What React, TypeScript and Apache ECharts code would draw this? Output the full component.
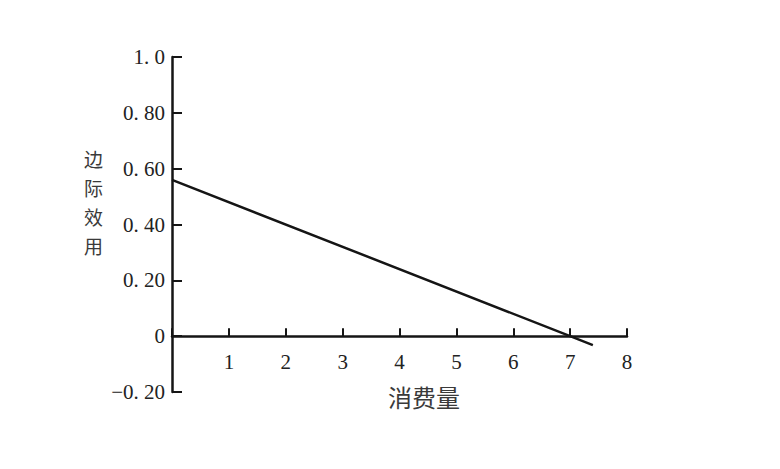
import { useEffect, useRef } from 'react';
import * as echarts from 'echarts';

// marginal utility line: consumption -> marginal utility
const consumption = [0, 7, 7.4];
const marginalUtility = [0.56, 0, -0.032];

const xTicks = [1, 2, 3, 4, 5, 6, 7, 8];
const yTickLabels: Record<string, string> = {
  '1': '1. 0',
  '0.8': '0. 80',
  '0.6': '0. 60',
  '0.4': '0. 40',
  '0.2': '0. 20',
  '0': '0',
  '-0.2': '−0. 20',
};

const yName = ['边', '际', '效', '用'];
const xName = '消费量';

export default function App() {
  const chartRef = useRef<HTMLDivElement>(null);

  useEffect(() => {
    if (!chartRef.current) return;
    const chart = echarts.init(chartRef.current, null, { renderer: 'svg' });

    const ink = '#151515';
    const labelFont = {
      fontFamily: '"Liberation Serif", "DejaVu Serif", serif',
      fontSize: 21,
      color: '#222',
    };
    const cjkFont = '"Noto Sans CJK SC", sans-serif';
    const gridTop = 49;
    const gridBottom = 69;
    const gridHeight = 453 - gridTop - gridBottom;

    chart.setOption({
      animation: false,
      backgroundColor: '#fff',
      grid: { left: 164, right: 145, top: gridTop, bottom: gridBottom, containLabel: false },
      xAxis: {
        type: 'value',
        min: 0,
        max: 8,
        interval: 1,
        position: 'bottom',
        // move the whole axis (line, ticks, labels) up to y = 0
        offset: -gridHeight / 6,
        axisLine: { onZero: false, lineStyle: { color: ink, width: 2.5 } },
        axisTick: { show: true, inside: true, length: 8, lineStyle: { color: ink, width: 2 } },
        axisLabel: {
          ...labelFont,
          margin: 15,
          formatter: (v: number) => (xTicks.includes(v) ? String(v) : ''),
        },
        splitLine: { show: false },
      },
      yAxis: {
        type: 'value',
        min: -0.2,
        max: 1.0,
        interval: 0.2,
        axisLine: { show: true, onZero: false, lineStyle: { color: ink, width: 2.5 } },
        axisTick: { show: true, inside: true, length: 10, lineStyle: { color: ink, width: 2 } },
        axisLabel: {
          ...labelFont,
          margin: 7,
          formatter: (v: number) => yTickLabels[String(Math.round(v * 10) / 10)] ?? '',
        },
        splitLine: { show: false },
      },
      graphic: [
        ...yName.map((ch, i) => ({
          type: 'text',
          left: 76,
          top: 141 + i * 29,
          style: { text: ch, fontFamily: cjkFont, fontSize: 19, fill: '#3a3a3a' },
        })),
        {
          type: 'text',
          left: 380,
          top: 376,
          style: { text: xName, fontFamily: cjkFont, fontSize: 24, fill: '#3a3a3a' },
        },
      ],
      series: [
        {
          type: 'line',
          data: consumption.map((x, i) => [x, marginalUtility[i]]),
          showSymbol: false,
          lineStyle: { color: ink, width: 2.5 },
          silent: true,
        },
      ],
    });

    return () => chart.dispose();
  }, []);

  return <div ref={chartRef} style={{ width: 764, height: 453 }} />;
}
